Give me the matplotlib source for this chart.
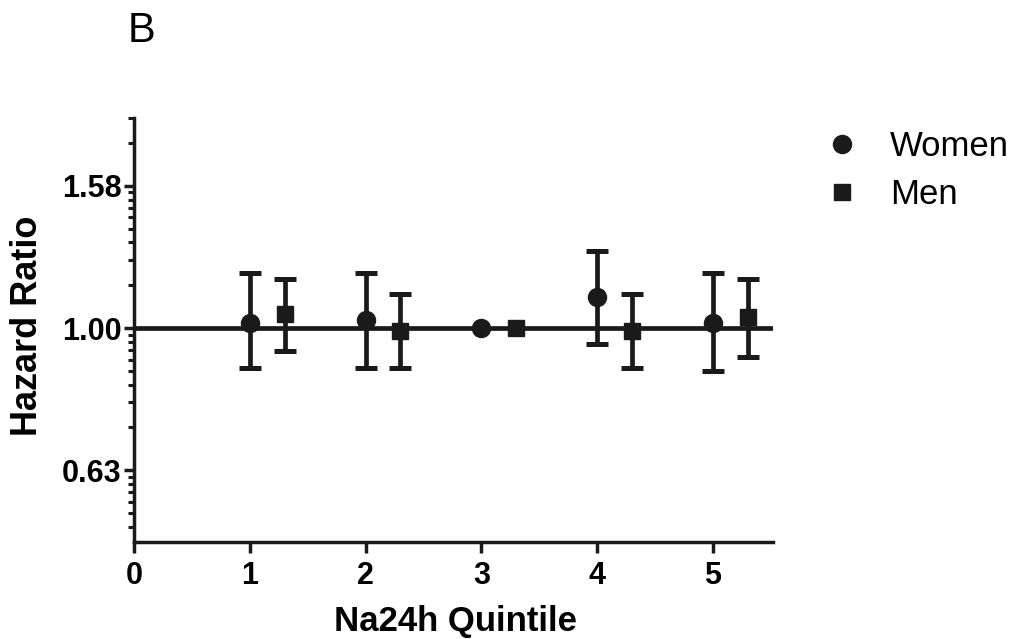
import numpy as np
import matplotlib
matplotlib.use("Agg")
import matplotlib.pyplot as plt
from matplotlib.lines import Line2D
from matplotlib.ticker import FixedLocator, NullFormatter

plt.rcParams['font.family'] = ['Liberation Sans', 'DejaVu Sans']

# hazard ratios by Na24h quintile (quintile 3 is the reference)
quintiles = [1, 2, 3, 4, 5]
women_hr = [1.017, 1.026, 1.00, 1.105, 1.015]
women_lo = [0.880, 0.880, 1.00, 0.949, 0.869]
women_hi = [1.195, 1.195, 1.00, 1.283, 1.195]
men_hr = [1.047, 0.989, 1.00, 0.989, 1.035]
men_lo = [0.929, 0.880, 1.00, 0.880, 0.910]
men_hi = [1.174, 1.117, 1.00, 1.117, 1.174]
men_shift = 0.3

ink = '#1a1a1a'

fig = plt.figure(figsize=(10.16, 6.39), dpi=100)
ax = fig.add_axes([0.1322, 0.1518, 0.6286, 0.6635])

ax.axhline(1.0, color=ink, lw=3.4, zorder=1)

def draw_group(xs, hr, lo, hi, marker, ms):
    xs = np.asarray(xs, float)
    hr, lo, hi = map(np.asarray, (hr, lo, hi))
    ci = hi > lo  # reference category has no interval
    ax.errorbar(xs[ci], hr[ci], yerr=[hr[ci] - lo[ci], hi[ci] - hr[ci]],
                fmt='none', ecolor=ink, elinewidth=3.4, capsize=7.8,
                capthick=3.6, zorder=2)
    ax.plot(xs, hr, ls='none', marker=marker, ms=ms, color=ink,
            mec=ink, zorder=3)

draw_group(quintiles, women_hr, women_lo, women_hi, 'o', 13)
draw_group(np.array(quintiles) + men_shift, men_hr, men_lo, men_hi, 's', 12)

ax.set_yscale('log')
ax.set_ylim(0.5, 1.975)
ax.set_xlim(0, 5.52)

majors = [10 ** -0.2, 1.0, 10 ** 0.2]
ax.yaxis.set_major_locator(FixedLocator(majors))
ax.set_yticklabels(['%.2f' % v for v in majors])
# each 0.2-decade step is subdivided like a full decade
minors = []
for k in range(-2, 2):
    base = 10 ** (0.2 * k)
    for m in range(2, 10):
        v = base * m ** 0.2
        if 0.5 <= v <= 1.98:
            minors.append(v)
ax.yaxis.set_minor_locator(FixedLocator(minors))
ax.yaxis.set_minor_formatter(NullFormatter())

ax.set_xticks(range(0, 6))

for s in ['top', 'right']:
    ax.spines[s].set_visible(False)
for s in ['left', 'bottom']:
    ax.spines[s].set_linewidth(2.5)
    ax.spines[s].set_color(ink)

ax.tick_params(axis='both', which='major', direction='out', width=2.5,
               color=ink, labelsize=22)
ax.tick_params(axis='y', which='major', length=7, pad=2)
ax.tick_params(axis='x', which='major', length=8, pad=6)
ax.tick_params(axis='y', which='minor', direction='out', width=2.2,
               length=4.5, color=ink)
for lab in ax.get_xticklabels() + ax.get_yticklabels():
    lab.set_fontweight('bold')

ax.set_ylabel('Hazard Ratio', fontsize=26, fontweight='bold')
ax.yaxis.set_label_coords(-0.140, 0.51)
ax.set_xlabel('Na24h Quintile', fontsize=25, fontweight='bold')
ax.xaxis.set_label_coords(0.503, -0.149)

fig.text(128 / 1016, 1 - 42 / 639, 'B', fontsize=30, va='baseline', ha='left')

handles = [Line2D([], [], ls='none', marker='o', ms=13, color=ink),
           Line2D([], [], ls='none', marker='s', ms=11, color=ink)]
fig.legend(handles, ['Women', 'Men'], loc='upper left',
           bbox_to_anchor=(800 / 1016, 1 - 106 / 639), frameon=False,
           fontsize=25, handlelength=1.0, handletextpad=0.9,
           labelspacing=0.42, borderpad=0.2)

fig.savefig('out.png', dpi=100)
